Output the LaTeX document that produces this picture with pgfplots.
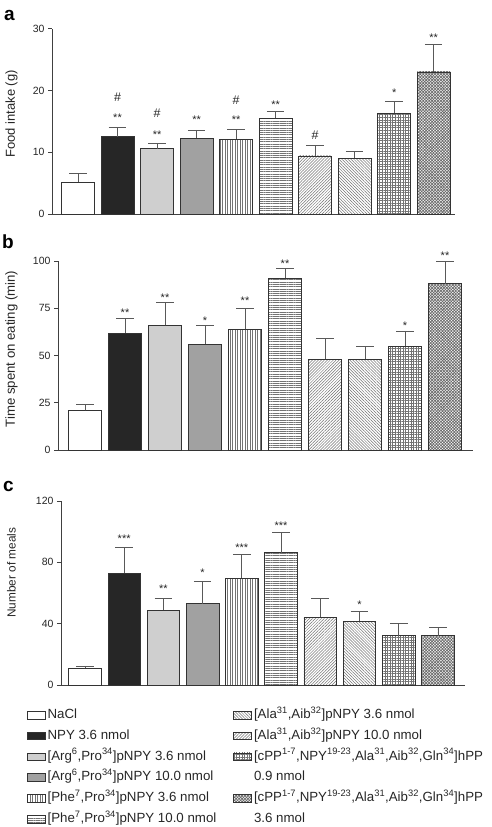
\documentclass[border=0pt]{standalone}
\usepackage{fontspec}
\setmainfont{Liberation Sans}
\usepackage{pgfplots}
\pgfplotsset{compat=1.18}
\usetikzlibrary{patterns.meta}

\definecolor{outl}{gray}{0.2}
\definecolor{errc}{gray}{0.35}
\definecolor{hatc}{gray}{0.45}

\tikzset{
  ann/.style={font=\fontsize{11}{12}\selectfont, anchor=base, inner sep=0pt, text=black!85},
  hsh/.style={font=\fontsize{12.5}{13}\selectfont, anchor=base, inner sep=0pt, text=black!85},
}

\pgfplotsset{
  bsty/.style={draw=outl, line width=0.7pt},
  p1/.style={bsty, fill=white},
  p2/.style={bsty, fill=black!85},
  p3/.style={bsty, fill=black!19},
  p4/.style={bsty, fill=black!37},
  p5/.style={bsty, pattern={Lines[angle=90,distance=2.5pt,line width=0.5pt]}, pattern color=hatc},
  p6/.style={bsty, pattern={Lines[angle=0,distance=2.3pt,line width=0.5pt]}, pattern color=hatc},
  p7/.style={bsty, pattern={Lines[angle=45,distance=2.1pt,line width=0.5pt]}, pattern color=hatc},
  p8/.style={bsty, pattern={Lines[angle=-45,distance=2.1pt,line width=0.5pt]}, pattern color=hatc},
  p9/.style={bsty, pattern={Hatch[angle=0,distance=2.6pt,line width=0.5pt]}, pattern color=hatc},
  p10/.style={bsty, pattern={Hatch[angle=45,distance=2.1pt,line width=0.72pt]}, pattern color=black!58},
  panel/.style={
    scale only axis, ybar, bar width=0.83, bar shift=0pt, clip=false,
    axis x line*=bottom, axis y line*=left, xtick=\empty, ymin=0,
    axis line style={black!75, line width=0.8pt},
    tick style={black!75, line width=0.8pt}, major tick length=4pt, tick align=outside,
    yticklabel style={font=\fontsize{10.5}{12}\selectfont, text=black!85},
    /pgf/number format/assume math mode=true,
    ylabel style={text=black!85, anchor=center},
    every axis plot/.append style={
      error bars/y dir=plus, error bars/y explicit,
      error bars/error bar style={draw=errc, line width=0.8pt},
      error bars/error mark=|,
      error bars/error mark options={draw=errc, line width=0.8pt, mark size=8.8pt}},
  },
}

\begin{document}
\begin{tikzpicture}
\path[use as bounding box] (0,0) rectangle (492pt,-827pt);

% panel labels
\node[font=\bfseries\fontsize{19}{19}\selectfont, anchor=base west, inner sep=0pt] at (4pt,-20pt) {a};
\node[font=\bfseries\fontsize{19}{19}\selectfont, anchor=base west, inner sep=0pt] at (2pt,-248.3pt) {b};
\node[font=\bfseries\fontsize{19}{19}\selectfont, anchor=base west, inner sep=0pt] at (3pt,-491.7pt) {c};

% ---------- panel a ----------
\begin{axis}[panel, at={(52pt,-214pt)}, anchor=south west,
  width=403pt, height=185.3pt, xmin=0.342, xmax=10.54, ymax=30,
  ytick={0,10,20,30},
  ylabel={Food intake (g)},
  ylabel style={font=\fontsize{13}{14}\selectfont, at={(axis description cs:-0.1005,0.54)}}]
\addplot[p1] coordinates {(1,5.2) +- (0,1.4)};
\addplot[p2] coordinates {(2,12.5) +- (0,1.5)};
\addplot[p3] coordinates {(3,10.6) +- (0,0.8)};
\addplot[p4] coordinates {(4,12.3) +- (0,1.3)};
\addplot[p5] coordinates {(5,12.1) +- (0,1.6)};
\addplot[p6] coordinates {(6,15.5) +- (0,1.1)};
\addplot[p7] coordinates {(7,9.4) +- (0,1.7)};
\addplot[p8] coordinates {(8,9.0) +- (0,1.2)};
\addplot[p9] coordinates {(9,16.3) +- (0,1.9)};
\addplot[p10] coordinates {(10,23.0) +- (0,4.5)};
\node[ann] at (axis cs:2,14.9) {**};
\node[hsh] at (axis cs:2,18.2) {\#};
\node[ann] at (axis cs:3,12.3) {**};
\node[hsh] at (axis cs:3,15.65) {\#};
\node[ann] at (axis cs:4,14.6) {**};
\node[ann] at (axis cs:5,14.6) {**};
\node[hsh] at (axis cs:5,17.65) {\#};
\node[ann] at (axis cs:6,17.0) {**};
\node[hsh] at (axis cs:7,12.0) {\#};
\node[ann] at (axis cs:9,19.05) {*};
\node[ann] at (axis cs:10,27.9) {**};
\end{axis}

% ---------- panel b ----------
\begin{axis}[panel, at={(58pt,-450pt)}, anchor=south west,
  width=415pt, height=189pt, xmin=0.325, xmax=10.7, ymax=100,
  ytick={0,25,50,75,100},
  ylabel={Time spent on eating (min)},
  ylabel style={font=\fontsize{13.2}{14}\selectfont, at={(axis description cs:-0.112,0.534)}}]
\addplot[p1] coordinates {(1,21.0) +- (0,3.0)};
\addplot[p2] coordinates {(2,61.8) +- (0,8.0)};
\addplot[p3] coordinates {(3,66.0) +- (0,12.0)};
\addplot[p4] coordinates {(4,56.0) +- (0,10.0)};
\addplot[p5] coordinates {(5,64.0) +- (0,11.0)};
\addplot[p6] coordinates {(6,91.0) +- (0,5.0)};
\addplot[p7] coordinates {(7,48.0) +- (0,11.0)};
\addplot[p8] coordinates {(8,48.0) +- (0,7.0)};
\addplot[p9] coordinates {(9,55.0) +- (0,8.0)};
\addplot[p10] coordinates {(10,88.0) +- (0,12.0)};
\node[ann] at (axis cs:2,70.6) {**};
\node[ann] at (axis cs:3,78.5) {**};
\node[ann] at (axis cs:4,66.2) {*};
\node[ann] at (axis cs:5,76.8) {**};
\node[ann] at (axis cs:6,96.5) {**};
\node[ann] at (axis cs:9,63.6) {*};
\node[ann] at (axis cs:10,100.6) {**};
\end{axis}

% ---------- panel c ----------
\begin{axis}[panel, at={(61pt,-685pt)}, anchor=south west,
  width=404pt, height=184pt, xmin=0.39, xmax=10.69, ymax=120,
  ytick={0,40,80,120},
  ylabel={Number of meals},
  ylabel style={font=\fontsize{11.8}{13}\selectfont, at={(axis description cs:-0.1225,0.61)}},
  legend columns=2, legend cell align=left,
  legend image code/.code={\draw[#1, line width=0.6pt] (0pt,-3.8pt) rectangle (18pt,3.8pt);},
  legend style={at={(axis description cs:-0.0842,-0.1168)}, anchor=north west,
    draw=none, fill=none, inner sep=0pt, outer sep=0pt,
    font=\fontsize{13.3}{15}\selectfont, row sep=3.8pt,
    nodes={text height=10pt, text depth=3pt, inner sep=2pt, text=black!85},
    /tikz/column 2/.style={column sep=15pt}}]
\addplot[p1, forget plot] coordinates {(1,10.9) +- (0,1.5)};
\addplot[p2, forget plot] coordinates {(2,72.8) +- (0,16.8)};
\addplot[p3, forget plot] coordinates {(3,48.9) +- (0,7.8)};
\addplot[p4, forget plot] coordinates {(4,53.0) +- (0,14.6)};
\addplot[p5, forget plot] coordinates {(5,69.6) +- (0,15.6)};
\addplot[p6, forget plot] coordinates {(6,86.3) +- (0,13.3)};
\addplot[p7, forget plot] coordinates {(7,44.3) +- (0,12.0)};
\addplot[p8, forget plot] coordinates {(8,41.5) +- (0,6.3)};
\addplot[p9, forget plot] coordinates {(9,32.2) +- (0,8.2)};
\addplot[p10, forget plot] coordinates {(10,32.2) +- (0,5.4)};
\node[ann] at (axis cs:2,93.0) {***};
\node[ann] at (axis cs:3,60.6) {**};
\node[ann] at (axis cs:4,70.8) {*};
\node[ann] at (axis cs:5,86.9) {***};
\node[ann] at (axis cs:6,101.7) {***};
\node[ann] at (axis cs:8,50.1) {*};
% legend (interleaved: left, right)
\addlegendimage{p1}\addlegendentry{NaCl}
\addlegendimage{p8}\addlegendentry{[Ala\textsuperscript{31},Aib\textsuperscript{32}]pNPY 3.6 nmol}
\addlegendimage{p2}\addlegendentry{NPY 3.6 nmol}
\addlegendimage{p7}\addlegendentry{[Ala\textsuperscript{31},Aib\textsuperscript{32}]pNPY 10.0 nmol}
\addlegendimage{p3}\addlegendentry{[Arg\textsuperscript{6},Pro\textsuperscript{34}]pNPY 3.6 nmol}
\addlegendimage{p9}\addlegendentry{[cPP\textsuperscript{1-7},NPY\textsuperscript{19-23},Ala\textsuperscript{31},Aib\textsuperscript{32},Gln\textsuperscript{34}]hPP}
\addlegendimage{p4}\addlegendentry{[Arg\textsuperscript{6},Pro\textsuperscript{34}]pNPY 10.0 nmol}
\addlegendimage{empty legend}\addlegendentry{0.9 nmol}
\addlegendimage{p5}\addlegendentry{[Phe\textsuperscript{7},Pro\textsuperscript{34}]pNPY 3.6 nmol}
\addlegendimage{p10}\addlegendentry{[cPP\textsuperscript{1-7},NPY\textsuperscript{19-23},Ala\textsuperscript{31},Aib\textsuperscript{32},Gln\textsuperscript{34}]hPP}
\addlegendimage{p6}\addlegendentry{[Phe\textsuperscript{7},Pro\textsuperscript{34}]pNPY 10.0 nmol}
\addlegendimage{empty legend}\addlegendentry{3.6 nmol}
\end{axis}
\end{tikzpicture}
\end{document}
